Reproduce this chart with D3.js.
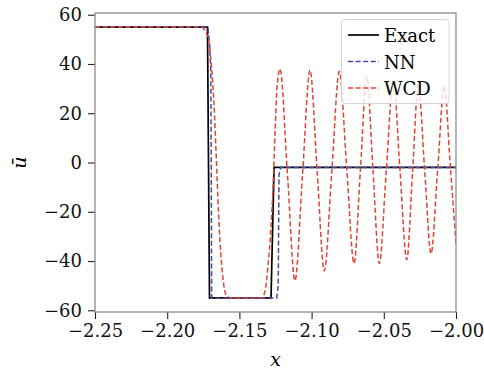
<!DOCTYPE html>
<meta charset="utf-8">
<style>
body {
    margin: 0;
    background: #fff;
}
svg {
    display: block;
    font-family: "DejaVu Serif", "Liberation Serif", serif;
}
.axis path {
    display: none;
}
.axis line {
    stroke: #222;
    stroke-width: 1.1;
}
.axis text {
    font-family: "DejaVu Serif", "Liberation Serif", serif;
    font-size: 18px;
    fill: #111;
}
</style>

<body>
    <div id="chart-container"></div>
    <script src="https://cdnjs.cloudflare.com/ajax/libs/d3/7.8.5/d3.min.js"></script>
    <script>
    // tick values
    var xTicks = [-2.25, -2.20, -2.15, -2.10, -2.05, -2.00];
    var yTicks = [-60, -40, -20, 0, 20, 40, 60];

    // exact solution
    var exactX = [-2.25, -2.1721, -2.1707, -2.1281, -2.1260, -2.00];
    var exactU = [55, 55, -55, -55, -2, -2];

    // NN
    var nnX = [-2.25, -2.1718, -2.1706, -2.1698, -2.1695, -2.1692, -2.1242, -2.1231, -2.1226, -2.1214, -2.00];
    var nnU = [55, 55, 48, 37, 0, -55, -55, -50, -5, -2, -2];

    // WCD
    var wcdX = [-2.25, -2.1761, -2.1738, -2.1715, -2.1692, -2.1676, -2.1660, -2.1645, -2.1630, -2.1612,
        -2.1590, -2.1553, -2.1344, -2.1319, -2.1302, -2.1281, -2.1267, -2.1253, -2.1240, -2.1219,
        -2.1167, -2.1115, -2.1063, -2.1011, -2.0962, -2.0912, -2.0860, -2.0808, -2.0757, -2.0706,
        -2.0662, -2.0618, -2.0575, -2.0531, -2.0483, -2.0434, -2.0388, -2.0341, -2.0301, -2.0261,
        -2.0217, -2.0173, -2.0127, -2.0081, -2.0040, -2.0000];
    var wcdU = [55, 55, 53.5, 50, 38, 24, 2, -20, -36, -48,
        -54, -55, -55, -51, -42, -26, -10, 12, 30, 38,
        -5, -48, -5, 37.5, -3, -44, -3.5, 37, -2, -41,
        -3, 35, -3, -41, -3.5, 33.5, -3, -39.5, -4, 31.5,
        -3, -37, -3, 31, -1, -33];

    var series = [
        { name: "Exact", xs: exactX, us: exactU, color: "#000000", dash: null, width: 1.7 },
        { name: "NN", xs: nnX, us: nnU, color: "#4f45a3", dash: "5,2.6", width: 1.5 },
        { name: "WCD", xs: wcdX, us: wcdU, color: "#dc4536", dash: "5,2.6", width: 1.5 }
    ];

    var width = 484,
        height = 372,
        plotLeft = 95,
        plotRight = 456,
        plotTop = 13,
        plotBottom = 312;

    var svg = d3.select("#chart-container").append("svg")
        .attr("width", width)
        .attr("height", height);

    var xScale = d3.scaleLinear()
        .domain([-2.25, -2.00])
        .range([plotLeft, plotRight]);

    var yScale = d3.scaleLinear()
        .domain([-60.7, 60.7])
        .range([plotBottom, plotTop]);

    // clip for the lines
    svg.append("clipPath")
        .attr("id", "plot-clip")
        .append("rect")
        .attr("x", plotLeft)
        .attr("y", plotTop)
        .attr("width", plotRight - plotLeft)
        .attr("height", plotBottom - plotTop);

    var line = d3.line()
        .x(function(d) { return xScale(d[0]); })
        .y(function(d) { return yScale(d[1]); });

    var plot = svg.append("g").attr("clip-path", "url(#plot-clip)");

    series.forEach(function(s) {
        var pts = s.xs.map(function(x, i) { return [x, s.us[i]]; });
        var curve = s.name === "WCD" ? d3.curveMonotoneX : d3.curveLinear;
        plot.append("path")
            .datum(pts)
            .attr("fill", "none")
            .attr("stroke", s.color)
            .attr("stroke-width", s.width)
            .attr("stroke-dasharray", s.dash)
            .attr("d", line.curve(curve));
    });

    // axes
    var xAxis = d3.axisBottom(xScale)
        .tickValues(xTicks)
        .tickFormat(d3.format(".2f"))
        .tickSize(7)
        .tickPadding(5);
    var yAxis = d3.axisLeft(yScale)
        .tickValues(yTicks)
        .tickFormat(d3.format("d"))
        .tickSize(7)
        .tickPadding(6);

    svg.append("g")
        .attr("class", "axis axis--x")
        .attr("transform", "translate(0," + plotBottom + ")")
        .call(xAxis);
    svg.append("g")
        .attr("class", "axis axis--y")
        .attr("transform", "translate(" + plotLeft + ",0)")
        .call(yAxis);

    // frame
    svg.append("rect")
        .attr("x", plotLeft)
        .attr("y", plotTop)
        .attr("width", plotRight - plotLeft)
        .attr("height", plotBottom - plotTop)
        .attr("fill", "none")
        .attr("stroke", "#8c8c8c")
        .attr("stroke-width", 1.3);

    // axis labels
    svg.append("text")
        .attr("x", (plotLeft + plotRight) / 2)
        .attr("y", 366)
        .attr("text-anchor", "middle")
        .style("font-size", "19px")
        .style("font-style", "italic")
        .text("x");
    svg.append("text")
        .attr("transform", "translate(26," + yScale(0) + ") rotate(-90)")
        .attr("text-anchor", "middle")
        .style("font-size", "19px")
        .style("font-style", "italic")
        .text("ū");

    // legend
    var legend = svg.append("g");
    legend.append("rect")
        .attr("x", 341.5)
        .attr("y", 19.5)
        .attr("width", 107.5)
        .attr("height", 84)
        .attr("rx", 3)
        .attr("fill", "#fff")
        .attr("fill-opacity", 0.8)
        .attr("stroke", "#d6d6d6")
        .attr("stroke-width", 1);

    series.forEach(function(s, i) {
        var y = 35 + i * 26.5;
        legend.append("line")
            .attr("x1", 348)
            .attr("x2", 379)
            .attr("y1", y)
            .attr("y2", y)
            .attr("stroke", s.color)
            .attr("stroke-width", s.width)
            .attr("stroke-dasharray", s.dash);
        legend.append("text")
            .attr("x", 384)
            .attr("y", y + 7)
            .style("font-size", "18px")
            .text(s.name);
    });
    </script>
</body>

</html>
